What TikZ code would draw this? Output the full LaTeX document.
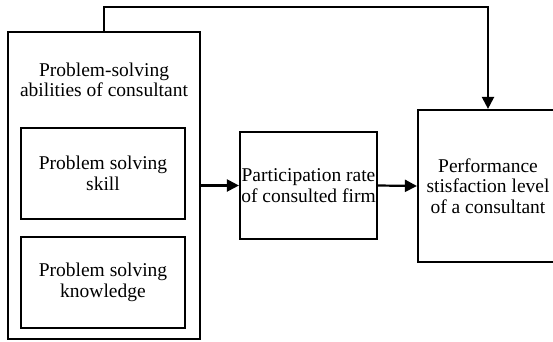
\documentclass[tikz,border=0pt]{standalone}
\usepackage{fontspec}
\setmainfont{Liberation Serif}
\usetikzlibrary{arrows.meta}

\begin{document}
\begin{tikzpicture}[x=1pt, y=1pt,
		block/.style={draw, line width=2.2pt, align=center, inner sep=0pt,
			font=\fontsize{19.5}{20.5}\selectfont},
		link/.style={line width=2.2pt, -{Triangle[length=12pt, width=12pt]}}]
		\useasboundingbox (0,0) rectangle (553,341);

		\node[block, minimum width=192, minimum height=307] (ability) at (104,155.5) {};
		\node[align=center, font=\fontsize{19.5}{20.5}\selectfont] (title) at (104,261) {Problem-solving\\abilities of consultant};
		\node[block, minimum width=164, minimum height=91] (skill) at (103,167.5) {Problem solving\\skill};
		\node[block, minimum width=164, minimum height=91] (knowledge) at (103,58.5) {Problem solving\\knowledge};
		\node[block, minimum width=137, minimum height=107] (rate) at (308.5,155.5) {Participation rate\\of consulted firm};
		\node[block, minimum width=140, minimum height=152] (perf) at (488,155) {Performance\\stisfaction level\\of a consultant};

		\draw[link] (ability.east) -- (rate.west);
		\draw[link] (rate.east) -- (perf.west);
		\draw[link] (ability.north) -- ++(0,24) -| (perf.north);
	\end{tikzpicture}
\end{document}
